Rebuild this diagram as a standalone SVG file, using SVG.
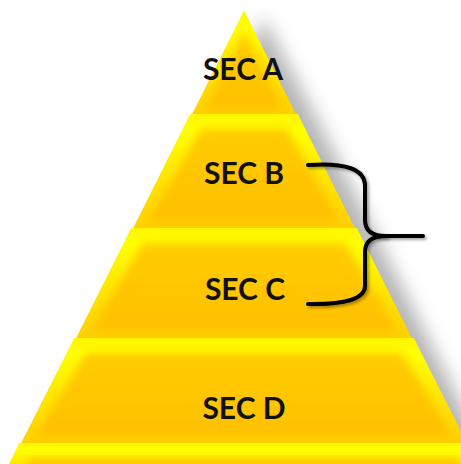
<svg xmlns="http://www.w3.org/2000/svg" width="461" height="464" viewBox="0 0 461 464">
  <defs>
    <style>
      .outer { fill: url(#bevel); }
      .inner { fill: url(#face); filter: url(#soft); }
      .lbl { font-family: Lato, "Open Sans", "Liberation Sans", sans-serif; font-weight: bold; font-size: 30px; fill: #111; text-anchor: middle; }
      .brace { fill: none; stroke: #000; stroke-width: 4; stroke-linecap: round; stroke-linejoin: round; filter: url(#bshadow); }
    </style>
    <linearGradient id="bevel" x1="0" y1="0" x2="0" y2="1">
      <stop offset="0" stop-color="#FFF600"/>
      <stop offset="0.15" stop-color="#FFFF00"/>
      <stop offset="0.6" stop-color="#FFE400"/>
      <stop offset="1" stop-color="#FFD000"/>
    </linearGradient>
    <linearGradient id="face" x1="0" y1="0" x2="0" y2="1">
      <stop offset="0" stop-color="#FFCC00"/>
      <stop offset="1" stop-color="#FFC000"/>
    </linearGradient>
    <filter id="soft" x="-10%" y="-10%" width="120%" height="120%">
      <feGaussianBlur stdDeviation="4"/>
    </filter>
    <filter id="shadow" x="-30%" y="-30%" width="160%" height="160%">
      <feGaussianBlur stdDeviation="9"/>
    </filter>
    <filter id="bshadow" x="-20%" y="-20%" width="140%" height="140%">
      <feDropShadow dx="2" dy="2" stdDeviation="1.5" flood-color="#000" flood-opacity="0.35"/>
    </filter>
    <clipPath id="cA"><polygon points="244,10 296,114 192,114"/></clipPath>
    <clipPath id="cB"><polygon points="190,114 298,114 355,228 133,228"/></clipPath>
    <clipPath id="cC"><polygon points="131,228 357,228 412,338 76,338"/></clipPath>
    <clipPath id="cD"><polygon points="74,338 414,338 467,443 21,443"/></clipPath>
    <clipPath id="cE"><polygon points="19,443 469,443 488,482 0,482"/></clipPath>
  </defs>

  <rect width="461" height="464" fill="#fff"/>

  <!-- shadow -->
  <polygon points="264,18 318,120 500,480 30,480" fill="#707070" opacity="0.5" filter="url(#shadow)"/>

  <g id="tierE" clip-path="url(#cE)">
    <polygon class="outer" points="19,443 469,443 488,482 0,482"/>
    <polygon class="inner" points="31,458 457,458 474,482 14,482"/>
  </g>
  <g id="secD">
    <g clip-path="url(#cD)">
      <polygon class="outer" points="74,338 414,338 467,443 21,443"/>
      <polygon class="inner" points="86,353 402,353 453,437 35,437"/>
    </g>
    <text class="lbl" x="244" y="419">SEC D</text>
  </g>
  <g id="secC">
    <g clip-path="url(#cC)">
      <polygon class="outer" points="131,228 357,228 412,338 76,338"/>
      <polygon class="inner" points="143,243 345,243 398,332 90,332"/>
    </g>
    <text class="lbl" x="245" y="300">SEC C</text>
  </g>
  <g id="secB">
    <g clip-path="url(#cB)">
      <polygon class="outer" points="190,114 298,114 355,228 133,228"/>
      <polygon class="inner" points="201,129 287,129 341,222 147,222"/>
    </g>
    <text class="lbl" x="244" y="184">SEC B</text>
  </g>
  <g id="secA">
    <g clip-path="url(#cA)">
      <polygon class="outer" points="244,10 296,114 192,114"/>
      <polygon class="inner" points="244,32 284,110 204,110"/>
    </g>
    <text class="lbl" x="243" y="80">SEC A</text>
  </g>

  <g id="connectors">
    <path class="brace" d="M308,165 Q365,161 365,186 L365,220 Q365,236 386,236 L423,236"/>
    <path class="brace" d="M386,236 Q365,236 365,252 L365,286 Q365,305 308,304"/>
  </g>
</svg>
